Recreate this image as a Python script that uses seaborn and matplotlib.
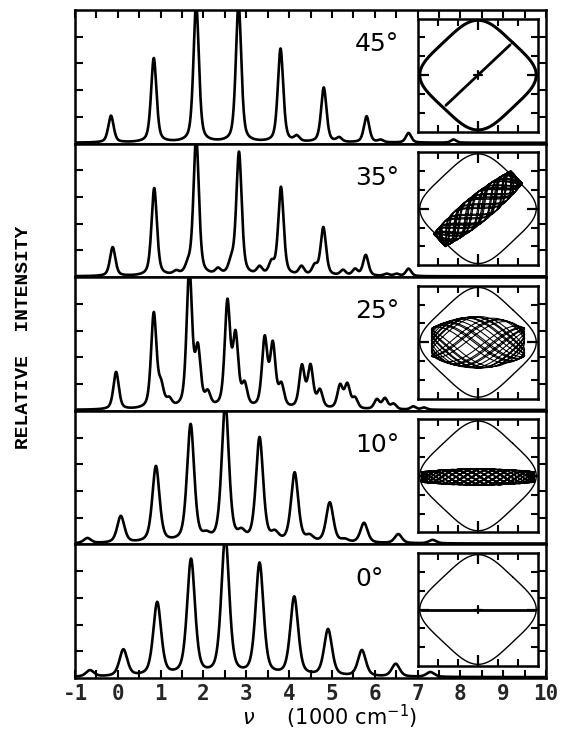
import numpy as np
import matplotlib
matplotlib.use("Agg")
import matplotlib.pyplot as plt
import seaborn as sns

# ---------------- data ----------------
panel_labels = ["45°", "35°", "25°", "10°", "0°"]

pos_45 = [-0.16, 0.84, 1.83, 2.82, 3.80, 4.18, 4.81, 5.17, 5.81, 6.14, 6.79, 7.84]
h_45 = [1.0, 3.15, 5.2, 5.2, 3.5, 0.2, 2.05, 0.16, 0.98, 0.09, 0.36, 0.12]

pos_35 = [-0.12, 0.85, 1.36, 1.64, 1.83, 2.34, 2.65, 2.83, 3.31, 3.59, 3.81,
          4.29, 4.60, 4.80, 5.26, 5.54, 5.79, 6.28, 6.51, 6.79]
h_35 = [1.08, 3.28, 0.12, 0.3, 5.2, 0.2, 0.42, 4.6, 0.28, 0.42, 3.3,
        0.32, 0.34, 1.8, 0.2, 0.24, 0.78, 0.08, 0.08, 0.28]

pos_25 = [-0.04, 0.84, 1.01, 1.20, 1.67, 1.87, 2.10, 2.56, 2.75, 2.96, 3.43,
          3.62, 3.82, 4.30, 4.50, 4.72, 5.19, 5.36, 5.54, 6.05, 6.24, 6.44, 6.90, 7.15]
h_25 = [1.4, 3.55, 0.75, 0.28, 5.2, 2.1, 0.5, 3.9, 2.6, 0.8, 2.55,
        2.3, 0.8, 1.55, 1.55, 0.65, 0.85, 0.88, 0.38, 0.36, 0.4, 0.2, 0.12, 0.08]

pos_10 = [-0.71, 0.07, 0.89, 1.70, 2.07, 2.51, 2.89, 3.31, 3.67, 4.13, 4.48,
          4.95, 5.30, 5.75, 6.55, 7.35]
h_10 = [0.19, 1.0, 2.85, 4.4, 0.18, 5.2, 0.28, 3.9, 0.28, 2.6, 0.2,
        1.5, 0.1, 0.75, 0.34, 0.13]

pos_0 = [-0.65, 0.13, 0.92, 1.71, 2.51, 3.31, 4.12, 4.91, 5.70, 6.49, 7.30]
h_0 = [0.24, 1.0, 2.75, 4.35, 5.2, 4.2, 2.95, 1.75, 0.98, 0.48, 0.18]

peak_positions = [pos_45, pos_35, pos_25, pos_10, pos_0]
peak_heights = [h_45, h_35, h_25, h_10, h_0]
peak_fwhm = [0.15, 0.15, 0.15, 0.2, 0.22]

x_tick_values = list(range(-1, 11))
x_tick_labels = [str(v) for v in x_tick_values]
y_label = "RELATIVE  INTENSITY"
x_label = r"$\nu$     (1000 cm$^{-1}$)"

# inset trajectories (orientation in degrees, half-length, half-width, freq ratio)
traj_angle = [45, 41, 0, 0, 0]
traj_len = [0.78, 0.88, 0.80, 0.97, 0.98]
traj_width = [0.0, 0.24, 0.47, 0.15, 0.0]
traj_ratio = [0.0, 3.17, 1.41, 4.3, 0.0]
traj_pinch = [0.0, 0.35, 0.45, 0.35, 0.0]
traj_offset = [0.0, 0.0, 0.0, -0.02, 0.0]
boundary_lw = [2.2, 1.0, 1.0, 1.0, 1.0]

# ---------------- drawing ----------------
sns.set_theme(style="white")
plt.rcParams["font.family"] = ["DejaVu Sans"]
plt.rcParams["axes.unicode_minus"] = False

W, H = 561, 736
fig = plt.figure(figsize=(W / 100, H / 100), dpi=100)
fig.patch.set_facecolor("white")

left_px, right_px, top_px, bot_px = 75, 546, 10, 678
panel_h = (bot_px - top_px) / 5

xg = np.linspace(-1.0, 10.0, 2201)


def spectrum(x, pos, hts, fwhm):
    y = np.full_like(x, 0.03)
    for p, a in zip(pos, hts):
        d = (x - p) / (fwhm / 2)
        y += a * (0.5 / (1 + d ** 2) + 0.5 * np.exp(-np.log(2) * d ** 2))
    return y


for i in range(5):
    ptop = top_px + i * panel_h
    pbot = ptop + panel_h
    ax = fig.add_axes([left_px / W, 1 - pbot / H, (right_px - left_px) / W, panel_h / H])
    ax.set_facecolor("white")
    y = spectrum(xg, peak_positions[i], peak_heights[i], peak_fwhm[i])
    sns.lineplot(x=xg, y=y, ax=ax, color="black", lw=1.9, estimator=None, sort=False)
    ax.set_xlim(-1, 10)
    ax.set_ylim(0, 5)
    ax.set_yticks([1, 2, 3, 4])
    ax.set_yticklabels([])
    ax.set_xticks(x_tick_values)
    ax.set_xticks(np.arange(-0.5, 10, 1.0), minor=True)
    for s in ax.spines.values():
        s.set_linewidth(1.8)
        s.set_color("black")
    ax.tick_params(axis="y", which="both", direction="in", left=True, right=True,
                   length=6, width=1.5, color="black")
    ax.tick_params(axis="x", which="both", direction="in", length=6, width=1.5,
                   color="black", bottom=(i == 4), top=(i == 0))
    if i == 4:
        ax.set_xticklabels(x_tick_labels, fontsize=15, fontweight="bold",
                           family="DejaVu Sans Mono")
        ax.tick_params(axis="x", pad=4)
    else:
        ax.set_xticklabels([])
    ax.set_xlabel("")
    ax.set_ylabel("")
    ax.text(5.54, 3.72, panel_labels[i], ha="left", va="center", fontsize=18,
            color="black")

    # inset
    il, ir = 418, 538
    ib = pbot - 12
    it = ib - 113
    iax = fig.add_axes([il / W, 1 - ib / H, (ir - il) / W, (ib - it) / H])
    iax.set_facecolor("white")
    lim = 1.03
    iax.set_xlim(-lim, lim)
    iax.set_ylim(-lim, lim)
    for s in iax.spines.values():
        s.set_linewidth(1.8)
        s.set_color("black")
    tks = np.linspace(-lim, lim, 7)[1:-1]
    iax.set_xticks([0])
    iax.set_yticks([0])
    iax.set_xticks([t for t in tks if abs(t) > 1e-9], minor=True)
    iax.set_yticks([t for t in tks if abs(t) > 1e-9], minor=True)
    iax.set_xticklabels([])
    iax.set_yticklabels([])
    iax.tick_params(which="major", direction="in", length=8, width=1.6,
                    top=True, bottom=True, left=True, right=True, color="black")
    iax.tick_params(which="minor", direction="in", length=5, width=1.5,
                    top=True, bottom=True, left=True, right=True, color="black")

    # boundary: rounded diamond (rotated superellipse)
    p = 4.0
    r = 2 ** (1 / p) / np.sqrt(2)
    tt = np.linspace(0, 2 * np.pi, 600)
    u = r * np.sign(np.cos(tt)) * np.abs(np.cos(tt)) ** (2 / p)
    v = r * np.sign(np.sin(tt)) * np.abs(np.sin(tt)) ** (2 / p)
    bx = (u - v) / np.sqrt(2)
    by = (u + v) / np.sqrt(2)
    sns.lineplot(x=bx, y=by, ax=iax, color="black", lw=boundary_lw[i],
                 estimator=None, sort=False)

    th = np.deg2rad(traj_angle[i])
    L = traj_len[i]
    if traj_width[i] == 0:
        a = np.array([-L, L])
        b = np.array([0.0, 0.0])
        lw = 2.0
    else:
        t = np.linspace(0, 2 * np.pi * 14, 6000)
        a = L * np.cos(t)
        b = traj_width[i] * np.cos(traj_ratio[i] * t + 0.7) * (1 - traj_pinch[i] * (a / L) ** 2)
        lw = 0.75
    tx = a * np.cos(th) - b * np.sin(th)
    ty = a * np.sin(th) + b * np.cos(th) + traj_offset[i]
    sns.lineplot(x=tx, y=ty, ax=iax, color="black", lw=lw, estimator=None, sort=False)
    if traj_width[i] == 0:
        c = 0.07
        iax.plot([-c, c], [0, 0], color="black", lw=1.6)
        iax.plot([0, 0], [-c, c], color="black", lw=1.6)
    iax.set_xlabel("")
    iax.set_ylabel("")

fig.text(24 / W, 1 - 337 / H, y_label, rotation=90, ha="center", va="center",
         fontsize=14, family="Liberation Mono", fontweight="bold", color="black")
fig.text(330 / W, 1 - 717 / H, x_label, ha="center", va="center", fontsize=15,
         color="black")

fig.savefig("out.png", dpi=100, facecolor="white")
